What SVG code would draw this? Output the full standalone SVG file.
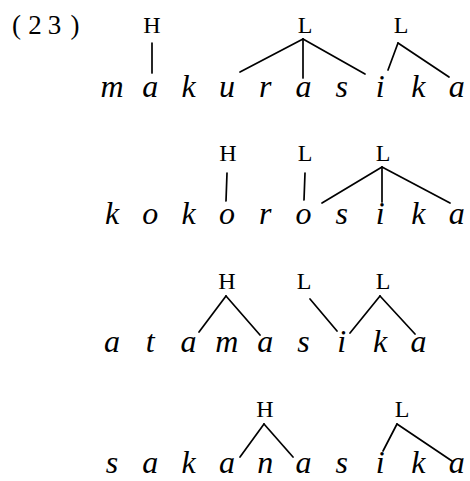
<svg xmlns="http://www.w3.org/2000/svg" width="470" height="481" viewBox="0 0 470 481">
<style>
.seg{font-family:"Liberation Serif","Times New Roman",serif;font-style:italic;font-size:32px;fill:#000;text-anchor:middle}
.tone{font-family:"Liberation Serif","Times New Roman",serif;font-size:24px;fill:#000;text-anchor:middle}
.num{font-family:"Liberation Serif","Times New Roman",serif;font-size:27px;fill:#000;text-anchor:middle}
.ln{stroke:#000;stroke-width:1.7;fill:none;stroke-linecap:round}
</style>
<rect width="470" height="481" fill="#fff"/>
<g id="label"><text class="num" x="16.5 35 54.5 75" y="34">(23)</text></g>

<g id="row1">
<g id="r1-word"><text class="seg" x="112 150.3 188.6 226.9 265.2 303.5 341.8 380.1 418.4 456.7" y="97">makurasika</text></g>
<g id="r1-H"><text class="tone" x="152" y="33">H</text></g>
<g id="r1-L1"><text class="tone" x="305" y="33">L</text></g>
<g id="r1-L2"><text class="tone" x="401" y="33">L</text></g>
</g>

<g id="row2">
<g id="r2-word"><text class="seg" x="112 150.3 188.6 226.9 265.2 303.5 341.8 380.1 418.4 456.7" y="224">kokorosika</text></g>
<g id="r2-H"><text class="tone" x="228" y="161">H</text></g>
<g id="r2-L1"><text class="tone" x="305" y="161">L</text></g>
<g id="r2-L2"><text class="tone" x="383" y="161">L</text></g>
</g>

<g id="row3">
<g id="r3-word"><text class="seg" x="112 150.3 188.6 226.9 265.2 303.5 341.8 380.1 418.4" y="352">atamasika</text></g>
<g id="r3-H"><text class="tone" x="227" y="289">H</text></g>
<g id="r3-L1"><text class="tone" x="304" y="289">L</text></g>
<g id="r3-L2"><text class="tone" x="383" y="289">L</text></g>
</g>

<g id="row4">
<g id="r4-word"><text class="seg" x="112 150.3 188.6 226.9 265.2 303.5 341.8 380.1 418.4 456.7" y="473">sakanasika</text></g>
<g id="r4-H"><text class="tone" x="265" y="417">H</text></g>
<g id="r4-L"><text class="tone" x="402" y="417">L</text></g>
</g>

<g id="connectors">
<!-- row 1 -->
<line class="ln" x1="152" y1="43" x2="152" y2="73"/>
<line class="ln" x1="303" y1="39" x2="240" y2="72"/>
<line class="ln" x1="303" y1="39" x2="303" y2="78"/>
<line class="ln" x1="303" y1="39" x2="365" y2="74"/>
<line class="ln" x1="398" y1="43" x2="388" y2="70"/>
<line class="ln" x1="398" y1="43" x2="449" y2="77"/>
<!-- row 2 -->
<line class="ln" x1="227" y1="173" x2="226" y2="201"/>
<line class="ln" x1="305" y1="173" x2="304" y2="200"/>
<line class="ln" x1="382" y1="167" x2="322" y2="203"/>
<line class="ln" x1="382" y1="167" x2="382" y2="202"/>
<line class="ln" x1="382" y1="167" x2="450" y2="203"/>
<!-- row 3 -->
<line class="ln" x1="226" y1="296" x2="199" y2="332"/>
<line class="ln" x1="226" y1="296" x2="260" y2="335"/>
<line class="ln" x1="310" y1="299" x2="337" y2="331"/>
<line class="ln" x1="380" y1="296" x2="350" y2="333"/>
<line class="ln" x1="380" y1="296" x2="415" y2="334"/>
<!-- row 4 -->
<line class="ln" x1="264" y1="424" x2="240" y2="457"/>
<line class="ln" x1="264" y1="424" x2="293" y2="457"/>
<line class="ln" x1="397" y1="424" x2="383" y2="451"/>
<line class="ln" x1="397" y1="424" x2="452" y2="461"/>
</g>
</svg>
